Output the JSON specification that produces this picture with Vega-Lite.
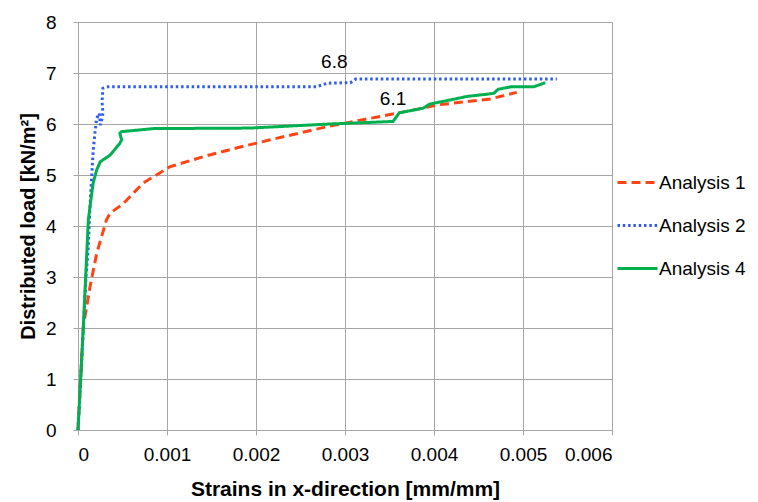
{
  "$schema": "https://vega.github.io/schema/vega-lite/v6.json",
  "width": 534,
  "height": 408,
  "autosize": {"type": "none"},
  "padding": {"left": 78, "top": 22, "right": 146, "bottom": 72},
  "background": "white",
  "config": {
    "font": "Liberation Sans",
    "view": {"stroke": null},
    "axis": {
      "labelFont": "Liberation Sans",
      "titleFont": "Liberation Sans",
      "labelFontSize": 19,
      "titleFontSize": 20,
      "titleFontWeight": "bold",
      "labelColor": "#000000",
      "titleColor": "#000000",
      "gridColor": "#A6A6A6",
      "gridWidth": 1,
      "domainColor": "#A6A6A6",
      "tickColor": "#A6A6A6",
      "tickSize": 5
    }
  },
  "layer": [
    {
      "data": {
        "values": [
          {"series": "Analysis 1", "i": 0, "strain": 0, "load": 0},
          {"series": "Analysis 1", "i": 1, "strain": 0.00003, "load": 1.0},
          {"series": "Analysis 1", "i": 2, "strain": 0.00006, "load": 2.03},
          {"series": "Analysis 1", "i": 3, "strain": 0.000135, "load": 2.81},
          {"series": "Analysis 1", "i": 4, "strain": 0.00021, "load": 3.46},
          {"series": "Analysis 1", "i": 5, "strain": 0.00032, "load": 4.12},
          {"series": "Analysis 1", "i": 6, "strain": 0.00036, "load": 4.25},
          {"series": "Analysis 1", "i": 7, "strain": 0.00051, "load": 4.44},
          {"series": "Analysis 1", "i": 8, "strain": 0.00073, "load": 4.84},
          {"series": "Analysis 1", "i": 9, "strain": 0.00103, "load": 5.16},
          {"series": "Analysis 1", "i": 10, "strain": 0.00141, "load": 5.36},
          {"series": "Analysis 1", "i": 11, "strain": 0.00178, "load": 5.53},
          {"series": "Analysis 1", "i": 12, "strain": 0.00216, "load": 5.69},
          {"series": "Analysis 1", "i": 13, "strain": 0.00283, "load": 5.96},
          {"series": "Analysis 1", "i": 14, "strain": 0.00358, "load": 6.21},
          {"series": "Analysis 1", "i": 15, "strain": 0.00407, "load": 6.38},
          {"series": "Analysis 1", "i": 16, "strain": 0.00463, "load": 6.49},
          {"series": "Analysis 1", "i": 17, "strain": 0.00493, "load": 6.62},

          {"series": "Analysis 2", "i": 0, "strain": 0, "load": 0},
          {"series": "Analysis 2", "i": 1, "strain": 0.00003, "load": 1.0},
          {"series": "Analysis 2", "i": 2, "strain": 0.00006, "load": 2.0},
          {"series": "Analysis 2", "i": 3, "strain": 0.00009, "load": 3.0},
          {"series": "Analysis 2", "i": 4, "strain": 0.000116, "load": 3.6},
          {"series": "Analysis 2", "i": 5, "strain": 0.000135, "load": 4.4},
          {"series": "Analysis 2", "i": 6, "strain": 0.00017, "load": 5.46},
          {"series": "Analysis 2", "i": 7, "strain": 0.00019, "load": 5.82},
          {"series": "Analysis 2", "i": 8, "strain": 0.00021, "load": 6.11},
          {"series": "Analysis 2", "i": 9, "strain": 0.00024, "load": 6.21},
          {"series": "Analysis 2", "i": 10, "strain": 0.00025, "load": 5.98},
          {"series": "Analysis 2", "i": 11, "strain": 0.00027, "load": 6.11},
          {"series": "Analysis 2", "i": 12, "strain": 0.00028, "load": 6.21},
          {"series": "Analysis 2", "i": 13, "strain": 0.00027, "load": 6.44},
          {"series": "Analysis 2", "i": 14, "strain": 0.00028, "load": 6.7},
          {"series": "Analysis 2", "i": 15, "strain": 0.00034, "load": 6.73},
          {"series": "Analysis 2", "i": 16, "strain": 0.00268, "load": 6.73},
          {"series": "Analysis 2", "i": 17, "strain": 0.0028, "load": 6.8},
          {"series": "Analysis 2", "i": 18, "strain": 0.00306, "load": 6.81},
          {"series": "Analysis 2", "i": 19, "strain": 0.00312, "load": 6.88},
          {"series": "Analysis 2", "i": 20, "strain": 0.00538, "load": 6.88},

          {"series": "Analysis 4", "i": 0, "strain": 0, "load": 0},
          {"series": "Analysis 4", "i": 1, "strain": 0.00006, "load": 2.03},
          {"series": "Analysis 4", "i": 2, "strain": 0.000116, "load": 4.12},
          {"series": "Analysis 4", "i": 3, "strain": 0.000135, "load": 4.38},
          {"series": "Analysis 4", "i": 4, "strain": 0.00017, "load": 4.84},
          {"series": "Analysis 4", "i": 5, "strain": 0.00021, "load": 5.1},
          {"series": "Analysis 4", "i": 6, "strain": 0.00025, "load": 5.26},
          {"series": "Analysis 4", "i": 7, "strain": 0.00036, "load": 5.39},
          {"series": "Analysis 4", "i": 8, "strain": 0.00047, "load": 5.62},
          {"series": "Analysis 4", "i": 9, "strain": 0.00049, "load": 5.69},
          {"series": "Analysis 4", "i": 10, "strain": 0.00047, "load": 5.82},
          {"series": "Analysis 4", "i": 11, "strain": 0.00049, "load": 5.85},
          {"series": "Analysis 4", "i": 12, "strain": 0.00085, "load": 5.91},
          {"series": "Analysis 4", "i": 13, "strain": 0.00193, "load": 5.92},
          {"series": "Analysis 4", "i": 14, "strain": 0.00283, "load": 6.0},
          {"series": "Analysis 4", "i": 15, "strain": 0.00354, "load": 6.05},
          {"series": "Analysis 4", "i": 16, "strain": 0.00361, "load": 6.22},
          {"series": "Analysis 4", "i": 17, "strain": 0.00388, "load": 6.31},
          {"series": "Analysis 4", "i": 18, "strain": 0.00395, "load": 6.39},
          {"series": "Analysis 4", "i": 19, "strain": 0.00418, "load": 6.47},
          {"series": "Analysis 4", "i": 20, "strain": 0.00437, "load": 6.54},
          {"series": "Analysis 4", "i": 21, "strain": 0.00467, "load": 6.6},
          {"series": "Analysis 4", "i": 22, "strain": 0.00472, "load": 6.68},
          {"series": "Analysis 4", "i": 23, "strain": 0.00487, "load": 6.73},
          {"series": "Analysis 4", "i": 24, "strain": 0.00512, "load": 6.73},
          {"series": "Analysis 4", "i": 25, "strain": 0.00525, "load": 6.81}
        ]
      },
      "mark": {"type": "line", "strokeWidth": 3, "clip": false},
      "encoding": {
        "x": {
          "field": "strain",
          "type": "quantitative",
          "scale": {"domain": [0, 0.006], "nice": false},
          "axis": {
            "title": "Strains in x-direction [mm/mm]",
            "titleFontSize": 21,
            "values": [0, 0.001, 0.002, 0.003, 0.004, 0.005, 0.006],
            "format": "~g",
            "labelPadding": 10,
            "titlePadding": 14
          }
        },
        "y": {
          "field": "load",
          "type": "quantitative",
          "scale": {"domain": [0, 8], "nice": false},
          "axis": {
            "title": "Distributed load [kN/m²]",
            "values": [0, 1, 2, 3, 4, 5, 6, 7, 8],
            "labelPadding": 17,
            "titlePadding": 7
          }
        },
        "order": {"field": "i", "type": "quantitative"},
        "color": {
          "field": "series",
          "type": "nominal",
          "scale": {
            "domain": ["Analysis 1", "Analysis 2", "Analysis 4"],
            "range": ["#FF4515", "#2F5CF0", "#00B050"]
          },
          "legend": {
            "title": null,
            "orient": "none",
            "legendX": 538,
            "legendY": 139,
            "symbolType": "stroke",
            "symbolSize": 1600,
            "symbolStrokeWidth": 3,
            "labelFontSize": 19,
            "labelFont": "Liberation Sans",
            "labelColor": "#000000",
            "labelOffset": 0,
            "rowPadding": 11
          }
        },
        "strokeDash": {
          "field": "series",
          "type": "nominal",
          "scale": {
            "domain": ["Analysis 1", "Analysis 2", "Analysis 4"],
            "range": [[9, 5], [2.5, 2.8], [1, 0]]
          },
          "legend": null
        }
      }
    },
    {
      "data": {
        "values": [
          {"label": "6.8", "strain": 0.00288, "load": 7.22},
          {"label": "6.1", "strain": 0.00354, "load": 6.49}
        ]
      },
      "mark": {"type": "text", "fontSize": 19, "font": "Liberation Sans", "color": "#000000", "baseline": "middle", "align": "center"},
      "encoding": {
        "x": {"field": "strain", "type": "quantitative"},
        "y": {"field": "load", "type": "quantitative"},
        "text": {"field": "label"}
      }
    }
  ]
}
